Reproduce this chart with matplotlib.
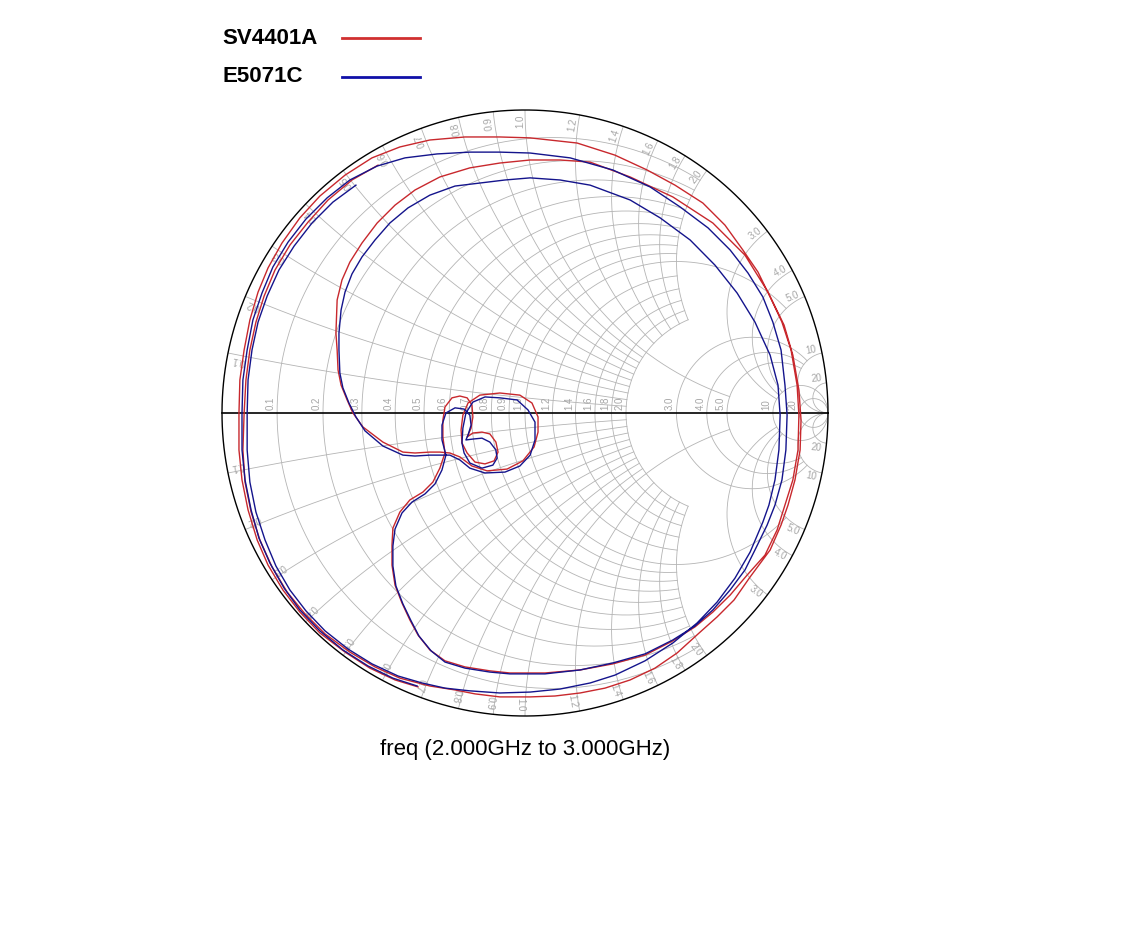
import numpy as np
import matplotlib
matplotlib.use('Agg')
import matplotlib.pyplot as plt
from matplotlib.lines import Line2D

# S11 읽은 값 (반사계수 실수부/허수부), 2.000GHz -> 3.000GHz
sv_re = [-0.353, -0.429, -0.512, -0.594, -0.677, -0.743, -0.799, -0.848, -0.884, -0.914, -0.934, -0.944,
         -0.944, -0.941, -0.927, -0.908, -0.881, -0.848, -0.802, -0.743, -0.677, -0.594, -0.505, -0.413,
         -0.314, -0.198, -0.083, 0.017, 0.172, 0.297, 0.403, 0.495, 0.587, 0.660, 0.719, 0.769,
         0.809, 0.848, 0.878, 0.898, 0.904, 0.901, 0.884, 0.858, 0.832, 0.792, 0.733, 0.677,
         0.620, 0.561, 0.488, 0.396, 0.290, 0.182, 0.066, -0.050, -0.116, -0.198, -0.264, -0.314,
         -0.353, -0.380, -0.406, -0.429, -0.439, -0.439, -0.436, -0.413, -0.380, -0.337, -0.304, -0.281,
         -0.264, -0.271, -0.271, -0.264, -0.241, -0.215, -0.191, -0.175, -0.172, -0.178, -0.191, -0.172,
         -0.142, -0.116, -0.096, -0.089, -0.102, -0.132, -0.165, -0.191, -0.208, -0.211, -0.205, -0.188,
         -0.149, -0.083, -0.017, 0.023, 0.043, 0.043, 0.030, -0.007, -0.059, -0.125, -0.175, -0.215,
         -0.248, -0.281, -0.314, -0.363, -0.403, -0.469, -0.535, -0.568, -0.587, -0.607, -0.617, -0.620,
         -0.624, -0.620, -0.604, -0.578, -0.538, -0.488, -0.429, -0.363, -0.281, -0.182, -0.083, 0.017,
         0.116, 0.215, 0.347, 0.488, 0.620, 0.726, 0.802, 0.855, 0.884, 0.904, 0.911, 0.908,
         0.891, 0.868, 0.845, 0.809, 0.743, 0.690, 0.634, 0.578, 0.502, 0.429, 0.347, 0.264,
         0.182, 0.099, 0.017, -0.083, -0.165, -0.231, -0.314, -0.413, -0.495, -0.578, -0.660, -0.726,
         -0.785, -0.835, -0.875, -0.904, -0.924, -0.931, -0.927, -0.921, -0.908, -0.888, -0.861, -0.825,
         -0.776, -0.716, -0.650, -0.571, -0.485]
sv_im = [-0.904, -0.881, -0.842, -0.789, -0.726, -0.657, -0.584, -0.502, -0.419, -0.320, -0.221, -0.122,
         0.000, 0.109, 0.208, 0.307, 0.399, 0.479, 0.561, 0.644, 0.716, 0.785, 0.842, 0.878,
         0.901, 0.911, 0.911, 0.908, 0.891, 0.851, 0.802, 0.752, 0.693, 0.620, 0.538, 0.465,
         0.383, 0.300, 0.208, 0.092, -0.007, -0.122, -0.221, -0.304, -0.386, -0.469, -0.535, -0.601,
         -0.657, -0.706, -0.752, -0.799, -0.828, -0.848, -0.858, -0.858, -0.851, -0.838, -0.818, -0.782,
         -0.733, -0.683, -0.627, -0.568, -0.502, -0.436, -0.380, -0.327, -0.287, -0.261, -0.228, -0.182,
         -0.132, -0.079, -0.023, 0.020, 0.050, 0.056, 0.050, 0.026, -0.013, -0.050, -0.079, -0.066,
         -0.063, -0.069, -0.096, -0.129, -0.158, -0.168, -0.162, -0.132, -0.099, -0.056, -0.007, 0.033,
         0.059, 0.066, 0.059, 0.033, -0.013, -0.063, -0.112, -0.158, -0.185, -0.191, -0.175, -0.145,
         -0.132, -0.129, -0.129, -0.132, -0.129, -0.096, -0.046, 0.000, 0.043, 0.092, 0.142, 0.208,
         0.264, 0.373, 0.439, 0.498, 0.561, 0.627, 0.686, 0.736, 0.779, 0.809, 0.825, 0.835,
         0.835, 0.828, 0.779, 0.713, 0.627, 0.521, 0.399, 0.290, 0.191, 0.076, -0.023, -0.122,
         -0.221, -0.304, -0.370, -0.452, -0.541, -0.617, -0.673, -0.723, -0.792, -0.842, -0.881, -0.908,
         -0.924, -0.934, -0.937, -0.937, -0.927, -0.914, -0.901, -0.875, -0.838, -0.789, -0.729, -0.663,
         -0.591, -0.508, -0.419, -0.327, -0.228, -0.122, 0.000, 0.109, 0.208, 0.300, 0.386, 0.472,
         0.554, 0.630, 0.703, 0.769, 0.818]

e5_re = [-0.356, -0.436, -0.518, -0.601, -0.677, -0.743, -0.795, -0.842, -0.878, -0.904, -0.924, -0.934,
         -0.934, -0.931, -0.917, -0.898, -0.868, -0.832, -0.782, -0.723, -0.653, -0.578, -0.488, -0.396,
         -0.290, -0.182, -0.083, 0.017, 0.149, 0.290, 0.413, 0.512, 0.604, 0.677, 0.736, 0.785,
         0.818, 0.845, 0.858, 0.865, 0.861, 0.848, 0.825, 0.799, 0.759, 0.726, 0.677, 0.620,
         0.561, 0.488, 0.396, 0.290, 0.182, 0.066, -0.050, -0.116, -0.198, -0.264, -0.310, -0.350,
         -0.376, -0.403, -0.426, -0.436, -0.436, -0.429, -0.406, -0.373, -0.330, -0.297, -0.274, -0.261,
         -0.274, -0.274, -0.261, -0.231, -0.201, -0.182, -0.178, -0.188, -0.195, -0.172, -0.142, -0.116,
         -0.096, -0.092, -0.106, -0.142, -0.182, -0.201, -0.208, -0.205, -0.195, -0.172, -0.132, -0.083,
         -0.026, 0.010, 0.033, 0.033, 0.017, -0.017, -0.066, -0.132, -0.182, -0.215, -0.248, -0.281,
         -0.314, -0.363, -0.403, -0.469, -0.528, -0.558, -0.581, -0.601, -0.611, -0.614, -0.614, -0.607,
         -0.594, -0.571, -0.538, -0.495, -0.446, -0.386, -0.314, -0.231, -0.149, -0.066, 0.017, 0.116,
         0.215, 0.347, 0.446, 0.545, 0.627, 0.700, 0.759, 0.809, 0.835, 0.842, 0.838, 0.825,
         0.805, 0.785, 0.743, 0.693, 0.634, 0.568, 0.488, 0.396, 0.297, 0.215, 0.116, 0.017,
         -0.083, -0.182, -0.264, -0.340, -0.419, -0.505, -0.584, -0.660, -0.723, -0.776, -0.822, -0.858,
         -0.888, -0.908, -0.917, -0.917, -0.914, -0.901, -0.881, -0.851, -0.812, -0.762, -0.703, -0.634,
         -0.558]
e5_im = [-0.901, -0.875, -0.835, -0.782, -0.719, -0.650, -0.578, -0.495, -0.413, -0.320, -0.221, -0.122,
         0.000, 0.109, 0.208, 0.307, 0.396, 0.482, 0.564, 0.640, 0.710, 0.769, 0.815, 0.842,
         0.855, 0.861, 0.861, 0.858, 0.842, 0.802, 0.746, 0.680, 0.611, 0.538, 0.462, 0.383,
         0.300, 0.208, 0.092, -0.007, -0.122, -0.221, -0.304, -0.370, -0.452, -0.518, -0.584, -0.650,
         -0.703, -0.749, -0.795, -0.825, -0.848, -0.861, -0.861, -0.855, -0.842, -0.822, -0.785, -0.736,
         -0.686, -0.630, -0.571, -0.505, -0.439, -0.383, -0.330, -0.294, -0.267, -0.234, -0.188, -0.139,
         -0.089, -0.040, 0.000, 0.017, 0.013, -0.007, -0.040, -0.073, -0.089, -0.086, -0.083, -0.096,
         -0.122, -0.149, -0.172, -0.182, -0.165, -0.132, -0.099, -0.050, 0.000, 0.036, 0.053, 0.050,
         0.043, 0.010, -0.030, -0.089, -0.139, -0.175, -0.195, -0.198, -0.182, -0.155, -0.139, -0.139,
         -0.139, -0.142, -0.139, -0.109, -0.059, -0.013, 0.033, 0.083, 0.132, 0.208, 0.264, 0.340,
         0.399, 0.459, 0.515, 0.571, 0.627, 0.677, 0.719, 0.749, 0.759, 0.769, 0.776, 0.769,
         0.752, 0.703, 0.644, 0.571, 0.488, 0.396, 0.300, 0.191, 0.092, -0.007, -0.122, -0.221,
         -0.304, -0.360, -0.459, -0.545, -0.624, -0.693, -0.759, -0.818, -0.865, -0.891, -0.911, -0.921,
         -0.924, -0.917, -0.908, -0.891, -0.868, -0.828, -0.779, -0.719, -0.653, -0.584, -0.505, -0.419,
         -0.327, -0.228, -0.122, 0.000, 0.109, 0.208, 0.300, 0.386, 0.472, 0.551, 0.627, 0.696,
         0.752]

# 스미스 차트 눈금
r_values = [0.1, 0.2, 0.3, 0.4, 0.5, 0.6, 0.7, 0.8, 0.9, 1.0, 1.2, 1.4, 1.6, 1.8, 2.0, 3.0, 4.0, 5.0, 10, 20]
x_values = [0.1, 0.2, 0.3, 0.4, 0.5, 0.6, 0.7, 0.8, 0.9, 1.0, 1.2, 1.4, 1.6, 1.8, 2.0, 3.0, 4.0, 5.0, 10, 20]
r_labels = ['0.1', '0.2', '0.3', '0.4', '0.5', '0.6', '0.7', '0.8', '0.9', '1.0', '1.2', '1.4', '1.6', '1.8',
            '2.0', '3.0', '4.0', '5.0', '10', '20']
x_labels = r_labels


def r_limit(r):
    # 저항원이 그려지는 리액턴스 범위
    if r >= 10:
        return 1e6
    if r >= 3:
        return 10
    if r == 1.0:
        return 5
    return 2


def x_limit(x):
    # 리액턴스 호가 그려지는 저항 범위
    if x >= 10:
        return 1e6
    if x >= 3:
        return 10
    if x == 1.0:
        return 5
    return 2


def gamma(z):
    return (z - 1) / (z + 1)


GRID = '#b4b4b4'
TXT = '#a6a6a6'

fig = plt.figure(figsize=(11.42, 9.32), dpi=100)
ax = fig.add_axes([222 / 1142, 216 / 932, 606 / 1142, 606 / 932])
ax.set_xlim(-1, 1)
ax.set_ylim(-1, 1)
ax.set_aspect('equal')
ax.axis('off')

for r in r_values:
    t = np.linspace(-np.arctan(r_limit(r)), np.arctan(r_limit(r)), 400)
    g = gamma(r + 1j * np.tan(t))
    ax.plot(g.real, g.imag, color=GRID, lw=0.6, zorder=1)

for x in x_values:
    t = np.linspace(0, np.arctan(x_limit(x)), 400)
    for s in (1, -1):
        g = gamma(np.tan(t) + 1j * s * x)
        ax.plot(g.real, g.imag, color=GRID, lw=0.6, zorder=1)

th = np.linspace(0, 2 * np.pi, 800)
ax.plot(np.cos(th), np.sin(th), color='black', lw=1.0, zorder=3, clip_on=False)
ax.plot([-1, 1], [0, 0], color='black', lw=1.2, zorder=3, clip_on=False)

for r, lab in zip(r_values, r_labels):
    gx = (r - 1) / (r + 1)
    ax.annotate(lab, (gx, 0), xytext=(-1, 2), textcoords='offset points', rotation=90,
                ha='right', va='bottom', fontsize=7, color=TXT, family='Liberation Sans')

for x, lab in zip(x_values, x_labels):
    for s in (1, -1):
        ang = s * (180 - 2 * np.degrees(np.arctan(x)))
        a = np.radians(ang)
        ax.text(0.985 * np.cos(a), 0.985 * np.sin(a), lab, rotation=ang, rotation_mode='anchor',
                ha='right', va='bottom' if s > 0 else 'top', fontsize=7, color=TXT,
                family='Liberation Sans')

RED = '#c8282d'
BLUE = '#14148c'
ax.plot(sv_re, sv_im, color=RED, lw=1.0, zorder=4, clip_on=False)
ax.plot(e5_re, e5_im, color=BLUE, lw=1.0, zorder=4, clip_on=False)

# 범례
fig.text(222 / 1142, 1 - 38 / 932, 'SV4401A', fontsize=16, fontweight='bold', va='center',
         family='Liberation Sans', color='black')
fig.text(222 / 1142, 1 - 77 / 932, 'E5071C', fontsize=16, fontweight='bold', va='center',
         family='Liberation Sans', color='black')
fig.add_artist(Line2D([342 / 1142, 420 / 1142], [1 - 38 / 932, 1 - 38 / 932], color='#d03030', lw=2.0))
fig.add_artist(Line2D([342 / 1142, 420 / 1142], [1 - 77 / 932, 1 - 77 / 932], color='#1010a8', lw=2.0))

fig.text(525 / 1142, 1 - 749 / 932, 'freq (2.000GHz to 3.000GHz)', fontsize=16, ha='center',
         va='center', family='Liberation Sans')

fig.savefig('out.png', dpi=100, facecolor='white')
